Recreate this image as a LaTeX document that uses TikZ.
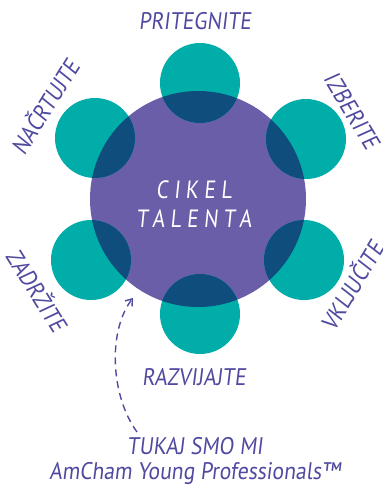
\documentclass[tikz,border=0pt]{standalone}
\usepackage{fontspec}
\setmainfont{PT Sans}
\newfontfamily\hand[FakeStretch=0.9,FakeSlant=0.12]{PT Sans}
\newfontfamily\handwide[FakeStretch=0.85,FakeSlant=0.1,LetterSpace=22]{PT Sans}
\usetikzlibrary{arrows.meta}
\definecolor{cycpurple}{HTML}{6B5EA8}
\definecolor{cycteal}{HTML}{00ADA9}
\definecolor{cycdeep}{HTML}{0E4D7C}
\definecolor{cycink}{HTML}{4F4AA0}

\begin{document}
\begin{tikzpicture}[x=1pt,y=-1pt,
    stage/.style={circle, fill=cycteal, minimum size=80pt, inner sep=0pt},
    word/.style={text=cycink, font=\hand\fontsize{24}{25}\selectfont, inner sep=0pt}]
  \useasboundingbox (0,0) rectangle (383,491);
  \node[circle, fill=cycpurple, minimum size=216pt, inner sep=0pt] (cycle) at (198,199) {};
  \foreach \n/\x/\y in {top/200/83, ul/95/138, ur/306/139, ll/91/260, lr/304/260, bot/200/314}
    \node[stage] (\n) at (\x,\y) {};
  % where the stages cover the cycle
  \begin{scope}
    \clip (cycle.center) circle (108pt);
    \foreach \n in {top, ul, ur, ll, lr, bot}
      \fill[cycdeep] (\n.center) circle (40pt);
  \end{scope}
  \node[text=white, font=\handwide\fontsize{25}{29}\selectfont, align=center] (title) at (194,204) {CIKEL\\TALENTA};
  \node[word] (attract) at (195,21) {PRITEGNITE};
  \node[word, rotate=58] (plan) at (44,106) {NAČRTUJTE};
  \node[word, rotate=-59] (select) at (352,111) {IZBERITE};
  \node[word, rotate=-58] (retain) at (38,290) {ZADRŽITE};
  \node[word, rotate=59] (engage) at (351,285) {VKLJUČITE};
  \node[word] (develop) at (194,377) {RAZVIJAJTE};
  \node[word, align=center] (here) at (195,461) {TUKAJ SMO MI\\AmCham Young Professionals™};
  \coordinate (tail) at (137,432);
  \coordinate (tip) at (133,298);
  \draw[cycink, line width=1.4pt, dash pattern=on 7pt off 5pt, -{Straight Barb[length=6pt,width=9pt]}]
    (tail) .. controls (110,395) and (108,330) .. (tip);
\end{tikzpicture}
\end{document}
